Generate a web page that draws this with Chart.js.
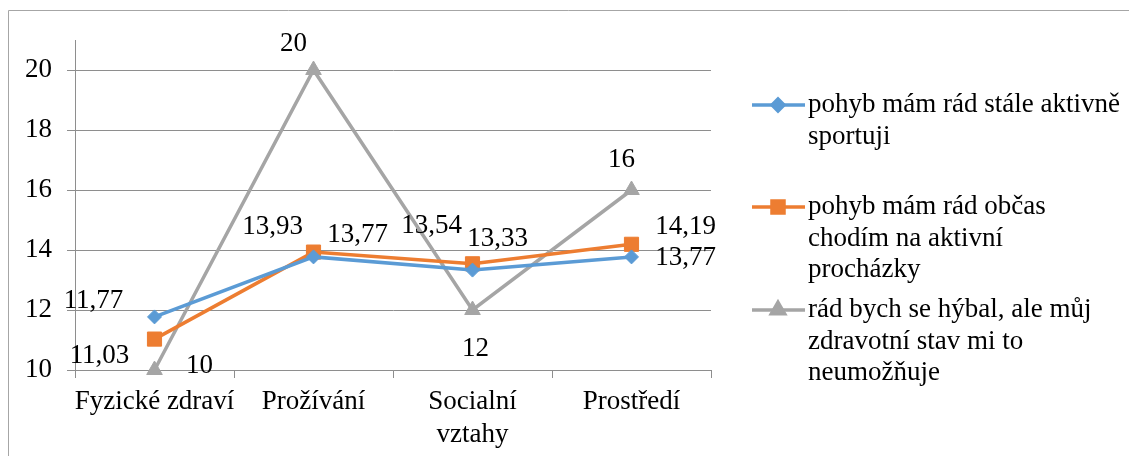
<!DOCTYPE html>
<html>
<head>
<meta charset="utf-8">
<script src="https://cdn.jsdelivr.net/npm/chart.js@4/dist/chart.umd.min.js"></script>
<style>
  html, body { margin: 0; padding: 0; background: #fff; }
  #wrap { width: 1129px; height: 456px; position: relative; }
</style>
</head>
<body>
<div id="wrap"><canvas id="myChart" width="1129" height="456"></canvas></div>
<script>
// kategorie a hodnoty jednotlivých skupin
const categories = ["Fyzické zdraví", "Prožívání", ["Socialní", "vztahy"], "Prostředí"];
const sportuji = [11.77, 13.77, 13.33, 13.77];
const prochazky = [11.03, 13.93, 13.54, 14.19];
const zdravotniStav = [10, 20, 12, 16];
const yTicks = [10, 12, 14, 16, 18, 20];

const seriesNames = [
    ["pohyb mám rád stále aktivně", "sportuji"],
    ["pohyb mám rád občas", "chodím na aktivní", "procházky"],
    ["rád bych se hýbal, ale můj", "zdravotní stav mi to", "neumožňuje"],
];

const FONT = "'Liberation Serif', 'Times New Roman', serif";
const FONT_SIZE = 27;
const GRID = "#8e8e8e";

// posun popisků hodnot vůči bodu (x, y) pro každou řadu
const labelOffsets = [
    [[-61, -16], [44, -22], [25, -31], [54, 1]],
    [[-55, 17], [-41, -25], [-41, -38], [54, -17]],
    [[45, -4], [-20, -26], [3, 39], [-10, -30]],
];

// rámeček kolem grafu
const framePlugin = {
    id: "frame",
    beforeDraw(chart) {
        const c = chart.ctx;
        c.save();
        c.strokeStyle = "#a6a6a6";
        c.lineWidth = 1;
        c.beginPath();
        c.moveTo(8.5, 456);
        c.lineTo(8.5, 10.5);
        c.lineTo(1129, 10.5);
        c.stroke();
        c.restore();
    },
};

// popisky hodnot s desetinnou čárkou
const valueLabels = {
    id: "valueLabels",
    afterDatasetsDraw(chart) {
        const c = chart.ctx;
        c.save();
        c.font = FONT_SIZE + "px " + FONT;
        c.fillStyle = "#000";
        c.textAlign = "center";
        c.textBaseline = "middle";
        chart.data.datasets.forEach((ds, i) => {
            chart.getDatasetMeta(i).data.forEach((pt, j) => {
                const [dx, dy] = labelOffsets[i][j];
                const txt = String(ds.data[j]).replace(".", ",");
                c.fillText(txt, pt.x + dx, pt.y + dy);
            });
        });
        c.restore();
    },
};

// legenda vpravo, víceřádkové popisky
const sideLegend = {
    id: "sideLegend",
    afterDraw(chart) {
        const c = chart.ctx;
        const tops = [105, 207, 310];
        const lineGap = 31.5;
        c.save();
        c.font = FONT_SIZE + "px " + FONT;
        c.textBaseline = "middle";
        c.textAlign = "left";
        chart.data.datasets.forEach((ds, i) => {
            const y = tops[i];
            c.strokeStyle = ds.borderColor;
            c.lineWidth = 3.5;
            c.beginPath();
            c.moveTo(752, y);
            c.lineTo(805, y);
            c.stroke();
            Chart.helpers.drawPoint(c, {
                pointStyle: ds.pointStyle,
                radius: ds.pointRadius * 0.85,
                borderWidth: 1,
            }, 778, y);
            c.fillStyle = ds.borderColor;
            c.strokeStyle = ds.borderColor;
            c.fill();
            c.fillStyle = "#000";
            seriesNames[i].forEach((line, k) => {
                c.fillText(line, 808, y + k * lineGap);
            });
        });
        c.restore();
    },
};

function series(label, data, color, style, radius) {
    return {
        label: label,
        data: data,
        borderColor: color,
        backgroundColor: color,
        borderWidth: 3.5,
        pointStyle: style,
        pointRadius: radius,
        pointHoverRadius: radius,
        pointBorderWidth: 1,
        pointBorderColor: color,
        pointBackgroundColor: color,
        tension: 0,
        clip: false,
    };
}

const ctx = document.getElementById("myChart").getContext("2d");
const myChart = new Chart(ctx, {
    type: "line",
    data: {
        labels: categories,
        datasets: [
            series(seriesNames[0].join(" "), sportuji, "#5b9bd5", "rectRot", 7),
            series(seriesNames[1].join(" "), prochazky, "#ed7d31", "rect", 10),
            series(seriesNames[2].join(" "), zdravotniStav, "#a5a5a5", "triangle", 9),
        ],
    },
    options: {
        responsive: false,
        animation: false,
        layout: { padding: { top: 40, right: 418, left: 0, bottom: 0 } },
        plugins: {
            legend: { display: false },
            tooltip: { enabled: false },
        },
        scales: {
            x: {
                offset: true,
                grid: {
                    offset: true,
                    drawOnChartArea: false,
                    color: GRID,
                    tickLength: 8,
                },
                border: { color: GRID, width: 1 },
                ticks: {
                    color: "#000",
                    font: { family: FONT, size: FONT_SIZE, lineHeight: 1.22 },
                    padding: 7,
                    maxRotation: 0,
                    autoSkip: false,
                },
                afterFit(scale) { scale.height = 86; },
            },
            y: {
                min: 10,
                max: 21,
                afterBuildTicks(scale) {
                    scale.ticks = yTicks.map(v => ({ value: v }));
                },
                grid: { color: GRID, tickLength: 8 },
                border: { color: GRID, width: 1 },
                ticks: {
                    color: "#000",
                    font: { family: FONT, size: FONT_SIZE },
                    padding: 15,
                },
                afterFit(scale) { scale.width = 75; },
            },
        },
    },
    plugins: [framePlugin, valueLabels, sideLegend],
});
</script>
</body>
</html>
